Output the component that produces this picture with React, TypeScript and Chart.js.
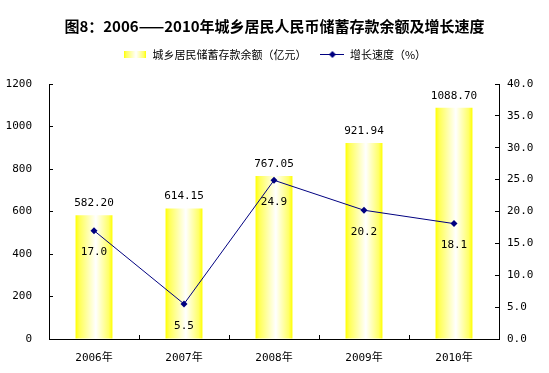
import React, { useEffect, useRef } from 'react';
import { Chart, registerables } from 'chart.js';

Chart.register(...registerables);

const categories = ['2006年', '2007年', '2008年', '2009年', '2010年'];
const savings = [582.2, 614.15, 767.05, 921.94, 1088.7];
const growth = [17.0, 5.5, 24.9, 20.2, 18.1];
const savingsLabels = ['582.20', '614.15', '767.05', '921.94', '1088.70'];
const growthLabels = ['17.0', '5.5', '24.9', '20.2', '18.1'];
const titleText = '图8：2006——2010年城乡居民人民币储蓄存款余额及增长速度';
const seriesNames = ['城乡居民储蓄存款余额（亿元）', '增长速度（%）'];

const NUM_FONT = "'DejaVu Sans Mono', 'Noto Sans CJK SC', sans-serif";
const CJK_FONT = "'Noto Sans CJK SC', sans-serif";
const LINE_COLOR = '#000080';
const BAR_PCT = 0.41;

function addStops(g: CanvasGradient) {
  g.addColorStop(0, '#ffff00');
  g.addColorStop(0.1, '#ffff55');
  g.addColorStop(0.55, '#ffffff');
  g.addColorStop(0.9, '#ffff66');
  g.addColorStop(1, '#ffff00');
  return g;
}

function makeBarLegendImage() {
  const c = document.createElement('canvas');
  c.width = 22;
  c.height = 7;
  const x = c.getContext('2d')!;
  x.fillStyle = addStops(x.createLinearGradient(0, 0, 22, 0));
  x.fillRect(0, 0, 22, 7);
  return c;
}

function makeLineLegendImage() {
  const c = document.createElement('canvas');
  c.width = 24;
  c.height = 9;
  const x = c.getContext('2d')!;
  x.strokeStyle = LINE_COLOR;
  x.lineWidth = 1;
  x.beginPath();
  x.moveTo(0, 4.5);
  x.lineTo(24, 4.5);
  x.stroke();
  x.fillStyle = LINE_COLOR;
  x.beginPath();
  x.moveTo(12, 1);
  x.lineTo(15.5, 4.5);
  x.lineTo(12, 8);
  x.lineTo(8.5, 4.5);
  x.closePath();
  x.fill();
  return c;
}

const valueLabelPlugin = {
  id: 'valueLabels',
  afterDatasetsDraw(chart: any) {
    const ctx = chart.ctx;
    ctx.save();
    ctx.font = `11px ${NUM_FONT}`;
    ctx.fillStyle = '#000';
    ctx.textAlign = 'center';
    ctx.textBaseline = 'middle';
    const barMeta = chart.getDatasetMeta(0);
    barMeta.data.forEach((el: any, i: number) => {
      ctx.fillText(savingsLabels[i], el.x, el.y - 12);
    });
    const lineMeta = chart.getDatasetMeta(1);
    lineMeta.data.forEach((el: any, i: number) => {
      ctx.fillText(growthLabels[i], el.x, el.y + 22);
    });
    ctx.restore();
  },
};

export default function App() {
  const canvasRef = useRef<HTMLCanvasElement | null>(null);

  useEffect(() => {
    const canvas = canvasRef.current;
    if (!canvas) return;
    const barImg = makeBarLegendImage();
    const lineImg = makeLineLegendImage();

    const chart = new Chart(canvas, {
      type: 'bar',
      data: {
        labels: categories,
        datasets: [
          {
            type: 'bar',
            label: seriesNames[0],
            data: savings,
            yAxisID: 'y',
            order: 2,
            barPercentage: BAR_PCT,
            categoryPercentage: 1,
            borderWidth: 0,
            backgroundColor: (c: any) => {
              const ch = c.chart;
              const xs = ch.scales && ch.scales.x;
              if (!xs || !ch.chartArea || c.type !== 'data') return '#ffff66';
              const cx = xs.getPixelForValue(c.dataIndex);
              const w = (xs.width / categories.length) * BAR_PCT;
              return addStops(ch.ctx.createLinearGradient(cx - w / 2, 0, cx + w / 2, 0));
            },
          },
          {
            type: 'line',
            label: seriesNames[1],
            data: growth,
            yAxisID: 'y1',
            order: 1,
            borderColor: LINE_COLOR,
            borderWidth: 1,
            backgroundColor: LINE_COLOR,
            pointStyle: 'rectRot',
            pointRadius: 3.5,
            pointBackgroundColor: LINE_COLOR,
            pointBorderColor: LINE_COLOR,
            pointBorderWidth: 0,
            tension: 0,
          },
        ],
      },
      options: {
        animation: false,
        responsive: false,
        maintainAspectRatio: false,
        layout: { padding: 0 },
        plugins: {
          title: {
            display: true,
            text: titleText,
            color: '#000',
            font: { family: CJK_FONT, size: 15, weight: 'bold', lineHeight: 1.2 },
            padding: { top: 17, bottom: 0 },
          },
          subtitle: {
            display: true,
            text: ' ',
            color: 'rgba(0,0,0,0)',
            weight: 500,
            font: { size: 1, lineHeight: 1 },
            padding: { top: 13, bottom: 0 },
          } as any,
          legend: {
            display: true,
            position: 'top',
            labels: {
              color: '#000',
              font: { family: CJK_FONT, size: 11 },
              padding: 14,
              usePointStyle: true,
              pointStyleWidth: 24,
              generateLabels: () => [
                {
                  text: seriesNames[0],
                  pointStyle: barImg,
                  fillStyle: '#ffff00',
                  strokeStyle: '#ffff00',
                  lineWidth: 0,
                  hidden: false,
                  datasetIndex: 0,
                  fontColor: '#000',
                } as any,
                {
                  text: seriesNames[1],
                  pointStyle: lineImg,
                  fillStyle: LINE_COLOR,
                  strokeStyle: LINE_COLOR,
                  lineWidth: 0,
                  hidden: false,
                  datasetIndex: 1,
                  fontColor: '#000',
                } as any,
              ],
            },
          },
          tooltip: { enabled: false },
        },
        scales: {
          x: {
            type: 'category',
            offset: true,
            grid: {
              display: true,
              offset: true,
              drawOnChartArea: false,
              drawTicks: true,
              tickLength: -4,
              color: '#000',
            },
            border: { display: true, color: '#000', width: 1 },
            ticks: {
              color: '#000',
              font: { family: NUM_FONT, size: 11 },
              padding: 17,
              maxRotation: 0,
            },
            afterFit: (s: any) => {
              s.height = 34;
            },
          },
          y: {
            type: 'linear',
            position: 'left',
            min: 0,
            max: 1200,
            grid: {
              display: true,
              drawOnChartArea: false,
              drawTicks: true,
              tickLength: -4,
              color: '#000',
            },
            border: { display: true, color: '#000', width: 1 },
            ticks: {
              stepSize: 200,
              color: '#000',
              font: { family: NUM_FONT, size: 11 },
              padding: 21,
              callback: (v: any) => String(v),
            },
            afterFit: (s: any) => {
              s.width = 49;
            },
          },
          y1: {
            type: 'linear',
            position: 'right',
            min: 0,
            max: 40,
            grid: {
              display: true,
              drawOnChartArea: false,
              drawTicks: true,
              tickLength: -4,
              color: '#000',
            },
            border: { display: true, color: '#000', width: 1 },
            ticks: {
              stepSize: 5,
              color: '#000',
              font: { family: NUM_FONT, size: 11 },
              padding: 12,
              callback: (v: any) => Number(v).toFixed(1),
            },
            afterFit: (s: any) => {
              s.width = 50;
            },
          },
        },
      } as any,
      plugins: [valueLabelPlugin],
    });

    return () => {
      chart.destroy();
    };
  }, []);

  return (
    <div style={{ position: 'fixed', left: 0, top: 0, width: 549, height: 373, background: '#fff' }}>
      <canvas ref={canvasRef} width={549} height={373} style={{ display: 'block' }} />
    </div>
  );
}
